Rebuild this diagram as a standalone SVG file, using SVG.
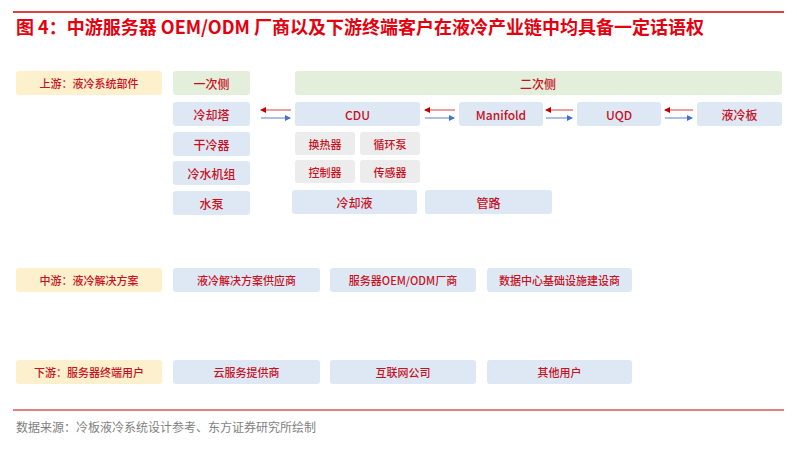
<svg xmlns="http://www.w3.org/2000/svg" width="797" height="449" viewBox="0 0 797 449">
<defs>
<style>
text{font-family:"Noto Sans CJK SC","Liberation Sans",sans-serif;}
.t{fill:#c8101e;font-size:12px;text-anchor:middle;dominant-baseline:central;font-weight:500;}
.s{font-size:11px;}
.b{fill:#dde8f4;}
.g{fill:#e3efdb;}
.y{fill:#fdf0cc;}
.e{fill:#ececec;}
.ar{stroke:#d04040;stroke-width:1;fill:none;}
.ab{stroke:#5b82c8;stroke-width:1;fill:none;}
</style>
<marker id="mr" markerWidth="6" markerHeight="6" refX="5" refY="3" orient="auto"><path d="M0,0L6,3L0,6z" fill="#c00000"/></marker>
<marker id="mb" markerWidth="6" markerHeight="6" refX="5" refY="3" orient="auto"><path d="M0,0L6,3L0,6z" fill="#4472c4"/></marker>
</defs>
<rect width="797" height="449" fill="#fff"/>
<line x1="13" y1="12" x2="784" y2="12" stroke="#d00000" stroke-width="1.3"/>
<text x="16" y="34" font-size="18" font-weight="bold" fill="#e3000f">图 4：中游服务器 OEM/ODM 厂商以及下游终端客户在液冷产业链中均具备一定话语权</text>
<g id="labels">
<g id="up"><rect class="y" x="16" y="71" width="146" height="24" rx="3"/><text class="t s" x="89" y="83">上游：液冷系统部件</text></g>
<g id="mid"><rect class="y" x="16" y="268" width="146" height="24" rx="3"/><text class="t s" x="89" y="280">中游：液冷解决方案</text></g>
<g id="down"><rect class="y" x="16" y="360" width="146" height="24" rx="3"/><text class="t s" x="89" y="372">下游：服务器终端用户</text></g>
</g>
<g id="n1"><rect class="g" x="173" y="71" width="77" height="24" rx="3"/><text class="t" x="211.5" y="83">一次侧</text></g>
<g id="n2"><rect class="g" x="295" y="71" width="487" height="24" rx="3"/><text class="t" x="538" y="83">二次侧</text></g>
<g id="n3"><rect class="b" x="173" y="102" width="77" height="24" rx="3"/><text class="t" x="211.5" y="114">冷却塔</text></g>
<g id="n4"><rect class="b" x="173" y="132" width="77" height="24" rx="3"/><text class="t" x="211.5" y="144">干冷器</text></g>
<g id="n5"><rect class="b" x="173" y="161" width="77" height="24" rx="3"/><text class="t" x="211.5" y="173">冷水机组</text></g>
<g id="n6"><rect class="b" x="173" y="191" width="77" height="24" rx="3"/><text class="t" x="211.5" y="203">水泵</text></g>
<g id="cdu"><rect class="b" x="295" y="102" width="125" height="24" rx="3"/><text class="t" x="357.5" y="114" font-size="13">CDU</text></g>
<g id="mf"><rect class="b" x="459" y="102" width="84" height="24" rx="3"/><text class="t" x="501" y="114" font-size="13">Manifold</text></g>
<g id="uqd"><rect class="b" x="577" y="102" width="84" height="24" rx="3"/><text class="t" x="619" y="114" font-size="13">UQD</text></g>
<g id="ylb"><rect class="b" x="697" y="102" width="85" height="24" rx="3"/><text class="t" x="739.5" y="114">液冷板</text></g>
<g id="hr"><rect class="e" x="295" y="132" width="60" height="23" rx="3"/><text class="t s" x="325" y="143.5">换热器</text></g>
<g id="xh"><rect class="e" x="360" y="132" width="60" height="23" rx="3"/><text class="t s" x="390" y="143.5">循环泵</text></g>
<g id="kz"><rect class="e" x="295" y="160" width="60" height="23" rx="3"/><text class="t s" x="325" y="171.5">控制器</text></g>
<g id="cg"><rect class="e" x="360" y="160" width="60" height="23" rx="3"/><text class="t s" x="390" y="171.5">传感器</text></g>
<g id="lqy"><rect class="b" x="292" y="190" width="125" height="24" rx="3"/><text class="t" x="354.5" y="202">冷却液</text></g>
<g id="gl"><rect class="b" x="425" y="190" width="127" height="24" rx="3"/><text class="t" x="488.5" y="202">管路</text></g>
<g id="m1"><rect class="b" x="173" y="268" width="147" height="24" rx="3"/><text class="t s" x="246.5" y="280">液冷解决方案供应商</text></g>
<g id="m2"><rect class="b" x="330" y="268" width="146" height="24" rx="3"/><text class="t s" x="403" y="280">服务器OEM/ODM厂商</text></g>
<g id="m3"><rect class="b" x="487" y="268" width="145" height="24" rx="3"/><text class="t s" x="559.5" y="280">数据中心基础设施建设商</text></g>
<g id="d1"><rect class="b" x="173" y="360" width="147" height="24" rx="3"/><text class="t s" x="246.5" y="372">云服务提供商</text></g>
<g id="d2"><rect class="b" x="330" y="360" width="146" height="24" rx="3"/><text class="t s" x="403" y="372">互联网公司</text></g>
<g id="d3"><rect class="b" x="487" y="360" width="145" height="24" rx="3"/><text class="t s" x="559.5" y="372">其他用户</text></g>
<g id="connectors">
<path class="ar" d="M291,110H261" marker-end="url(#mr)"/><path class="ab" d="M261,118H290" marker-end="url(#mb)"/>
<path class="ar" d="M455,110H425" marker-end="url(#mr)"/><path class="ab" d="M425,118H454" marker-end="url(#mb)"/>
<path class="ar" d="M573,110H546" marker-end="url(#mr)"/><path class="ab" d="M546,118H572" marker-end="url(#mb)"/>
<path class="ar" d="M693,110H665" marker-end="url(#mr)"/><path class="ab" d="M665,118H692" marker-end="url(#mb)"/>
</g>
<line x1="13" y1="410" x2="784" y2="410" stroke="#d00000" stroke-width="1"/>
<text x="16" y="432" font-size="12" fill="#7f7f7f">数据来源：冷板液冷系统设计参考、东方证券研究所绘制</text>
</svg>
